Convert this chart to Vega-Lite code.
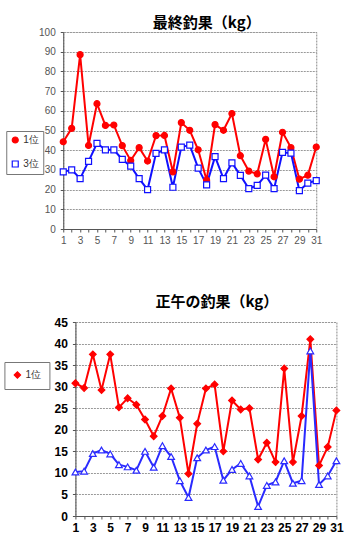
{
  "$schema": "https://vega.github.io/schema/vega-lite/v6.json",
  "padding": {"left": 3, "top": 15, "right": 0, "bottom": 0},
  "background": "white",
  "spacing": 48,
  "center": true,
  "config": {
    "view": {"stroke": "#888888", "strokeDash": [2, 1]},
    "font": "Liberation Sans"
  },
  "datasets": {
    "final": [
      {"day":1,"rank":"1位","kg":44.3},{"day":2,"rank":"1位","kg":51.1},{"day":3,"rank":"1位","kg":88.5},{"day":4,"rank":"1位","kg":42.4},{"day":5,"rank":"1位","kg":63.6},{"day":6,"rank":"1位","kg":52.6},{"day":7,"rank":"1位","kg":52.8},{"day":8,"rank":"1位","kg":42.3},{"day":9,"rank":"1位","kg":34.8},{"day":10,"rank":"1位","kg":41.3},{"day":11,"rank":"1位","kg":34.5},{"day":12,"rank":"1位","kg":47.4},{"day":13,"rank":"1位","kg":47.5},{"day":14,"rank":"1位","kg":29.0},{"day":15,"rank":"1位","kg":54.0},{"day":16,"rank":"1位","kg":50.1},{"day":17,"rank":"1位","kg":40.2},{"day":18,"rank":"1位","kg":24.8},{"day":19,"rank":"1位","kg":53.0},{"day":20,"rank":"1位","kg":50.1},{"day":21,"rank":"1位","kg":58.6},{"day":22,"rank":"1位","kg":37.2},{"day":23,"rank":"1位","kg":29.4},{"day":24,"rank":"1位","kg":28.0},{"day":25,"rank":"1位","kg":45.5},{"day":26,"rank":"1位","kg":26.5},{"day":27,"rank":"1位","kg":49.1},{"day":28,"rank":"1位","kg":41.3},{"day":29,"rank":"1位","kg":25.3},{"day":30,"rank":"1位","kg":27.3},{"day":31,"rank":"1位","kg":41.6},
      {"day":1,"rank":"3位","kg":29.0},{"day":2,"rank":"3位","kg":30.0},{"day":3,"rank":"3位","kg":25.6},{"day":4,"rank":"3位","kg":34.3},{"day":5,"rank":"3位","kg":43.5},{"day":6,"rank":"3位","kg":40.2},{"day":7,"rank":"3位","kg":40.2},{"day":8,"rank":"3位","kg":35.3},{"day":9,"rank":"3位","kg":31.9},{"day":10,"rank":"3位","kg":25.6},{"day":11,"rank":"3位","kg":20.0},{"day":12,"rank":"3位","kg":38.4},{"day":13,"rank":"3位","kg":40.2},{"day":14,"rank":"3位","kg":21.2},{"day":15,"rank":"3位","kg":41.6},{"day":16,"rank":"3位","kg":42.6},{"day":17,"rank":"3位","kg":30.9},{"day":18,"rank":"3位","kg":22.4},{"day":19,"rank":"3位","kg":36.7},{"day":20,"rank":"3位","kg":25.6},{"day":21,"rank":"3位","kg":33.6},{"day":22,"rank":"3位","kg":27.2},{"day":23,"rank":"3位","kg":20.5},{"day":24,"rank":"3位","kg":22.1},{"day":25,"rank":"3位","kg":27.3},{"day":26,"rank":"3位","kg":20.5},{"day":27,"rank":"3位","kg":38.9},{"day":28,"rank":"3位","kg":38.5},{"day":29,"rank":"3位","kg":19.5},{"day":30,"rank":"3位","kg":23.3},{"day":31,"rank":"3位","kg":24.6}
    ],
    "noon": [
      {"day":1,"rank":"1位","kg":30.8},{"day":2,"rank":"1位","kg":29.7},{"day":3,"rank":"1位","kg":37.5},{"day":4,"rank":"1位","kg":29.2},{"day":5,"rank":"1位","kg":37.5},{"day":6,"rank":"1位","kg":25.2},{"day":7,"rank":"1位","kg":27.3},{"day":8,"rank":"1位","kg":25.8},{"day":9,"rank":"1位","kg":22.4},{"day":10,"rank":"1位","kg":18.5},{"day":11,"rank":"1位","kg":23.2},{"day":12,"rank":"1位","kg":29.6},{"day":13,"rank":"1位","kg":22.8},{"day":14,"rank":"1位","kg":9.8},{"day":15,"rank":"1位","kg":21.4},{"day":16,"rank":"1位","kg":29.6},{"day":17,"rank":"1位","kg":30.5},{"day":18,"rank":"1位","kg":15.0},{"day":19,"rank":"1位","kg":26.8},{"day":20,"rank":"1位","kg":24.7},{"day":21,"rank":"1位","kg":25.0},{"day":22,"rank":"1位","kg":13.1},{"day":23,"rank":"1位","kg":17.0},{"day":24,"rank":"1位","kg":12.5},{"day":25,"rank":"1位","kg":34.2},{"day":26,"rank":"1位","kg":12.5},{"day":27,"rank":"1位","kg":23.2},{"day":28,"rank":"1位","kg":41.0},{"day":29,"rank":"1位","kg":11.7},{"day":30,"rank":"1位","kg":16.0},{"day":31,"rank":"1位","kg":24.5},
      {"day":1,"rank":"3位","kg":10.2},{"day":2,"rank":"3位","kg":10.4},{"day":3,"rank":"3位","kg":14.5},{"day":4,"rank":"3位","kg":15.3},{"day":5,"rank":"3位","kg":14.4},{"day":6,"rank":"3位","kg":11.9},{"day":7,"rank":"3位","kg":11.4},{"day":8,"rank":"3位","kg":10.6},{"day":9,"rank":"3位","kg":15.0},{"day":10,"rank":"3位","kg":11.3},{"day":11,"rank":"3位","kg":16.3},{"day":12,"rank":"3位","kg":13.8},{"day":13,"rank":"3位","kg":8.2},{"day":14,"rank":"3位","kg":4.3},{"day":15,"rank":"3位","kg":13.5},{"day":16,"rank":"3位","kg":15.3},{"day":17,"rank":"3位","kg":16.1},{"day":18,"rank":"3位","kg":8.3},{"day":19,"rank":"3位","kg":10.8},{"day":20,"rank":"3位","kg":12.2},{"day":21,"rank":"3位","kg":9.3},{"day":22,"rank":"3位","kg":2.2},{"day":23,"rank":"3位","kg":7.1},{"day":24,"rank":"3位","kg":7.9},{"day":25,"rank":"3位","kg":12.8},{"day":26,"rank":"3位","kg":7.6},{"day":27,"rank":"3位","kg":8.2},{"day":28,"rank":"3位","kg":38.3},{"day":29,"rank":"3位","kg":7.3},{"day":30,"rank":"3位","kg":9.3},{"day":31,"rank":"3位","kg":12.8}
    ]
  },
  "vconcat": [
    {
      "width": 253,
      "height": 197,
      "data": {"name": "final"},
      "title": {"text": "最終釣果（kg）", "font": "Noto Sans CJK JP", "fontSize": 15, "fontWeight": "bold", "color": "black", "dx": 17, "offset": -4},
      "encoding": {
        "x": {"field": "day", "type": "quantitative", "scale": {"domain": [1, 31], "nice": false, "zero": false},
          "axis": {"title": null, "values": [1,2,3,4,5,6,7,8,9,10,11,12,13,14,15,16,17,18,19,20,21,22,23,24,25,26,27,28,29,30,31],
            "labelExpr": "datum.value % 2 == 1 ? datum.label : ''", "grid": false, "tickSize": 3, "tickColor": "#555", "domainColor": "#555",
            "labelFontSize": 10, "labelColor": "#555", "labelPadding": 3, "labelFlush": false, "labelOverlap": false}},
        "y": {"field": "kg", "type": "quantitative", "scale": {"domain": [0, 100], "nice": false},
          "axis": {"title": null, "values": [0,10,20,30,40,50,60,70,80,90,100], "tickSize": 3, "tickColor": "#555", "domainColor": "#555",
            "labelFontSize": 10, "labelColor": "#555", "labelPadding": 5, "gridColor": "#999", "gridDash": [2, 1], "minExtent": 59, "maxExtent": 59}},
        "color": {"field": "rank", "type": "nominal", "scale": {"domain": ["1位", "3位"], "range": ["#ff0000", "#1010ff"]},
          "legend": {"title": null, "orient": "none", "legendX": -57, "legendY": 99, "strokeColor": "#777", "fillColor": "white", "padding": 4, "rowPadding": 12, "labelFontSize": 10, "labelOffset": 3, "labelColor": "#333", "symbolSize": 36, "symbolStrokeWidth": 1.2}}
      },
      "layer": [
        {"mark": {"type": "line", "strokeWidth": 2}},
        {"mark": {"type": "point", "filled": false, "opacity": 1, "strokeWidth": 1.2, "size": 36},
          "encoding": {
            "y": {"field": "kg", "type": "quantitative", "axis": {"orient": "right", "title": null, "labels": false, "ticks": false, "domain": false, "grid": false, "minExtent": 39, "maxExtent": 39}},
            "fill": {"field": "rank", "type": "nominal", "scale": {"domain": ["1位", "3位"], "range": ["#ff0000", "#ffffff"]}},
            "shape": {"field": "rank", "type": "nominal", "scale": {"domain": ["1位", "3位"], "range": ["circle", "square"]}}
          }}
      ],
      "resolve": {"axis": {"y": "independent"}}
    },
    {
      "width": 261,
      "height": 194,
      "data": {"name": "noon"},
      "title": {"text": "正午の釣果（kg）", "font": "Noto Sans CJK JP", "fontSize": 15, "fontWeight": "bold", "color": "black", "dx": 11, "offset": 6},
      "encoding": {
        "x": {"field": "day", "type": "quantitative", "scale": {"domain": [1, 31], "nice": false, "zero": false},
          "axis": {"title": null, "values": [1,2,3,4,5,6,7,8,9,10,11,12,13,14,15,16,17,18,19,20,21,22,23,24,25,26,27,28,29,30,31],
            "labelExpr": "datum.value % 2 == 1 ? datum.label : ''", "grid": false, "tickSize": 3, "tickColor": "#555", "domainColor": "#555",
            "labelFontSize": 12, "labelFontWeight": "bold", "labelColor": "black", "labelPadding": 3, "labelFlush": false, "labelOverlap": false}},
        "y": {"field": "kg", "type": "quantitative", "scale": {"domain": [0, 45], "nice": false},
          "axis": {"title": null, "values": [0,5,10,15,20,25,30,35,40,45], "tickSize": 3, "tickColor": "#555", "domainColor": "#555",
            "labelFontSize": 12, "labelFontWeight": "bold", "labelColor": "black", "labelPadding": 5, "gridColor": "#999", "gridDash": [2, 1], "minExtent": 59, "maxExtent": 59}},
        "color": {"field": "rank", "type": "nominal", "scale": {"domain": ["1位", "3位"], "range": ["#ff0000", "#2a2aff"]},
          "legend": {"title": null, "values": ["1位"], "orient": "none", "legendX": -71, "legendY": 40, "strokeColor": "#777", "fillColor": "white", "padding": 8, "labelFontSize": 10, "labelOffset": 3, "labelColor": "#333", "symbolSize": 40, "symbolStrokeWidth": 1.2}}
      },
      "layer": [
        {"mark": {"type": "line", "strokeWidth": 2}},
        {"mark": {"type": "point", "filled": false, "opacity": 1, "strokeWidth": 1.2, "size": 45},
          "encoding": {
            "fill": {"field": "rank", "type": "nominal", "scale": {"domain": ["1位", "3位"], "range": ["#ff0000", "#ffffff"]}},
            "shape": {"field": "rank", "type": "nominal", "scale": {"domain": ["1位", "3位"], "range": ["diamond", "triangle-up"]}}
          }}
      ]
    }
  ],
  "resolve": {"scale": {"color": "independent", "fill": "independent", "shape": "independent"}, "legend": {"color": "independent", "fill": "independent", "shape": "independent"}}
}
